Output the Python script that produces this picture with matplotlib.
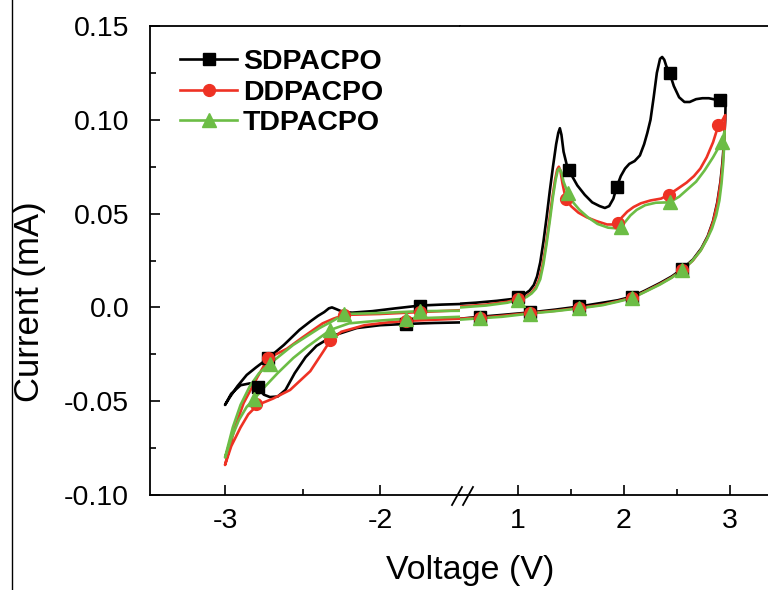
import matplotlib
matplotlib.use("Agg")
import matplotlib.pyplot as plt
from matplotlib.lines import Line2D
from matplotlib.ticker import FixedLocator, FixedFormatter

plt.rcParams["font.family"] = ["Liberation Sans", "DejaVu Sans"]

names = ["SDPACPO", "DDPACPO", "TDPACPO"]
colors = ["#000000", "#ee3224", "#6cbd45"]
markers = ["s", "o", "^"]

# ---- reduction scan (left part, -3.0 ... -1.48 V) ----
sd_red_v = [-1.48, -1.60, -1.74, -1.90, -2.05, -2.18, -2.24, -2.28, -2.31, -2.33, -2.36, -2.40,
            -2.45, -2.52, -2.62, -2.72, -2.80, -2.86, -2.92, -2.97, -3.00,
            -2.96, -2.90, -2.84, -2.79, -2.75, -2.71, -2.66, -2.61, -2.55, -2.48, -2.41,
            -2.30, -2.15, -2.00, -1.83, -1.65, -1.48]
sd_red_i = [0.0018, 0.0015, 0.0010, -0.0005, -0.0020, -0.0028, -0.0024, -0.0010, 0.0000,
            -0.0005, -0.0025, -0.0045, -0.0075, -0.0120, -0.0200, -0.0270, -0.0320, -0.0360,
            -0.0420, -0.0480, -0.0520,
            -0.0460, -0.0415, -0.0405, -0.0425, -0.0465, -0.0478, -0.0475, -0.0440, -0.0350,
            -0.0265, -0.0205, -0.0150, -0.0110, -0.0095, -0.0088, -0.0083, -0.0080]
dd_red_v = [-1.48, -1.74, -2.00, -2.23, -2.30, -2.37, -2.50, -2.60, -2.72, -2.79, -2.88, -2.94,
            -3.00,
            -2.96, -2.90, -2.85, -2.79, -2.69, -2.58, -2.45, -2.37, -2.32, -2.25, -2.10, -1.95,
            -1.83, -1.48]
dd_red_i = [-0.0015, -0.0025, -0.0035, -0.0040, -0.0060, -0.0085, -0.0160, -0.0220, -0.0270,
            -0.0370, -0.0510, -0.0650, -0.0840,
            -0.0740, -0.0640, -0.0570, -0.0520, -0.0486, -0.0440, -0.0340, -0.0240, -0.0176,
            -0.0130, -0.0095, -0.0080, -0.0072, -0.0060]
td_red_v = [-1.48, -1.74, -2.00, -2.23, -2.30, -2.39, -2.56, -2.71, -2.78, -2.84, -2.90, -2.95,
            -3.00,
            -2.96, -2.91, -2.86, -2.81, -2.74, -2.66, -2.56, -2.47, -2.32, -2.20, -2.00, -1.83,
            -1.48]
td_red_i = [-0.0018, -0.0020, -0.0030, -0.0035, -0.0070, -0.0110, -0.0200, -0.0300, -0.0350,
            -0.0420, -0.0520, -0.0640, -0.0800,
            -0.0700, -0.0600, -0.0530, -0.0486, -0.0420, -0.0350, -0.0270, -0.0210, -0.0120,
            -0.0085, -0.0070, -0.0060, -0.0050]

sd_red_mv = [-1.74, -2.72, -2.79, -1.83]
sd_red_mi = [0.0010, -0.0270, -0.0425, -0.0088]
dd_red_mv = [-1.74, -2.23, -2.72, -2.80, -2.32, -1.83]
dd_red_mi = [-0.0025, -0.0040, -0.0270, -0.0515, -0.0176, -0.0072]
td_red_mv = [-1.74, -2.23, -2.71, -2.81, -2.32, -1.83]
td_red_mi = [-0.0020, -0.0035, -0.0300, -0.0486, -0.0120, -0.0060]

# ---- oxidation scan (right part, 0.46 ... 2.95 V) ----
sd_ox_v = [0.46, 0.60, 0.80, 0.95, 1.00, 1.06, 1.11, 1.15, 1.18, 1.21, 1.24, 1.27, 1.30, 1.33,
           1.36, 1.38, 1.395, 1.41, 1.43, 1.46, 1.50, 1.56, 1.63, 1.70, 1.77, 1.82, 1.86, 1.90,
           1.93, 1.97, 2.01, 2.05, 2.10, 2.15, 2.19, 2.22, 2.25, 2.28, 2.31, 2.34, 2.36, 2.38,
           2.40, 2.43, 2.47, 2.52, 2.57, 2.62, 2.68, 2.74, 2.80, 2.86, 2.91, 2.94, 2.96,
           2.955, 2.945, 2.93, 2.91, 2.88, 2.84, 2.79, 2.73, 2.65, 2.55, 2.45, 2.34, 2.20,
           2.08, 1.94, 1.80, 1.58, 1.35, 1.11, 0.85, 0.64, 0.46]
sd_ox_i = [0.0020, 0.0025, 0.0035, 0.0045, 0.0055, 0.0070, 0.0090, 0.0120, 0.0165, 0.0240,
           0.0350, 0.0480, 0.0620, 0.0750, 0.0870, 0.0930, 0.0955, 0.0920, 0.0830, 0.0760,
           0.0710, 0.0650, 0.0600, 0.0560, 0.0540, 0.0530, 0.0540, 0.0580, 0.0640, 0.0700,
           0.0740, 0.0765, 0.0780, 0.0810, 0.0870, 0.0930, 0.1000, 0.1120, 0.1250, 0.1325,
           0.1335, 0.1320, 0.1285, 0.1250, 0.1180, 0.1120, 0.1095, 0.1095, 0.1110, 0.1115,
           0.1115, 0.1108, 0.1105, 0.1110, 0.1130,
           0.1000, 0.0900, 0.0780, 0.0670, 0.0560, 0.0460, 0.0380, 0.0315, 0.0255, 0.0205,
           0.0165, 0.0130, 0.0090, 0.0058, 0.0038, 0.0025, 0.0005, -0.0012, -0.0027, -0.0040,
           -0.0050, -0.0060]
dd_ox_v = [0.46, 0.70, 0.90, 1.00, 1.08, 1.13, 1.17, 1.20, 1.23, 1.26, 1.29, 1.32, 1.35, 1.37,
           1.385, 1.40, 1.42, 1.45, 1.50, 1.57, 1.65, 1.74, 1.84, 1.90, 1.94, 1.98, 2.03,
           2.09, 2.16, 2.25, 2.35, 2.42, 2.50, 2.59, 2.66, 2.72, 2.78, 2.84, 2.89, 2.93, 2.955,
           2.95, 2.945, 2.93, 2.91, 2.88, 2.84, 2.79, 2.73, 2.65, 2.55, 2.45, 2.34, 2.20,
           2.08, 1.94, 1.80, 1.58, 1.35, 1.11, 0.85, 0.64, 0.46]
dd_ox_i = [0.0005, 0.0015, 0.0030, 0.0045, 0.0060, 0.0080, 0.0110, 0.0150, 0.0220, 0.0320,
           0.0440, 0.0570, 0.0680, 0.0735, 0.0750, 0.0730, 0.0660, 0.0580, 0.0540, 0.0505,
           0.0480, 0.0460, 0.0442, 0.0442, 0.0450, 0.0480, 0.0510, 0.0535, 0.0555, 0.0570,
           0.0580, 0.0600, 0.0630, 0.0665, 0.0700, 0.0740, 0.0800, 0.0880, 0.0970, 0.1000,
           0.1025,
           0.0950, 0.0870, 0.0760, 0.0660, 0.0550, 0.0455, 0.0375, 0.0310, 0.0250, 0.0200,
           0.0160, 0.0125, 0.0085, 0.0052, 0.0033, 0.0015, -0.0002, -0.0018, -0.0030, -0.0045,
           -0.0055, -0.0060]
td_ox_v = [0.46, 0.70, 0.90, 1.00, 1.08, 1.13, 1.17, 1.21, 1.24, 1.27, 1.30, 1.33, 1.355,
           1.375, 1.39, 1.41, 1.43, 1.47, 1.52, 1.58, 1.66, 1.75, 1.85, 1.92, 1.97, 2.01, 2.06,
           2.12, 2.20, 2.30, 2.43, 2.52, 2.60, 2.68, 2.76, 2.84, 2.92, 2.95,
           2.945, 2.935, 2.92, 2.90, 2.87, 2.83, 2.78, 2.72, 2.64, 2.55, 2.45, 2.34, 2.20,
           2.08, 1.94, 1.80, 1.58, 1.35, 1.11, 0.85, 0.64, 0.46]
td_ox_i = [0.0000, 0.0010, 0.0025, 0.0040, 0.0055, 0.0075, 0.0100, 0.0150, 0.0230, 0.0340,
           0.0460, 0.0590, 0.0680, 0.0730, 0.0740, 0.0720, 0.0670, 0.0610, 0.0560, 0.0520,
           0.0480, 0.0445, 0.0425, 0.0422, 0.0430, 0.0455, 0.0490, 0.0520, 0.0545, 0.0558,
           0.0560, 0.0590, 0.0630, 0.0670, 0.0730, 0.0800, 0.0880, 0.0940,
           0.0860, 0.0760, 0.0660, 0.0570, 0.0490, 0.0420, 0.0360, 0.0300, 0.0245, 0.0198,
           0.0158, 0.0122, 0.0083, 0.0050, 0.0030, 0.0012, -0.0005, -0.0020, -0.0033, -0.0050,
           -0.0058, -0.0065]

sd_ox_mv = [1.00, 1.48, 1.93, 2.43, 2.91, 2.55, 2.08, 1.58, 1.11, 0.64]
sd_ox_mi = [0.0055, 0.0730, 0.0640, 0.1250, 0.1105, 0.0205, 0.0058, 0.0005, -0.0027, -0.0050]
dd_ox_mv = [1.00, 1.45, 1.94, 2.42, 2.89, 2.55, 2.08, 1.58, 1.11, 0.64]
dd_ox_mi = [0.0045, 0.0580, 0.0450, 0.0600, 0.0970, 0.0200, 0.0052, -0.0002, -0.0030, -0.0055]
td_ox_mv = [1.00, 1.47, 1.97, 2.43, 2.92, 2.55, 2.08, 1.58, 1.11, 0.64]
td_ox_mi = [0.0040, 0.0610, 0.0430, 0.0560, 0.0880, 0.0198, 0.0050, -0.0005, -0.0033, -0.0058]

red_curves = [(sd_red_v, sd_red_i, sd_red_mv, sd_red_mi),
              (dd_red_v, dd_red_i, dd_red_mv, dd_red_mi),
              (td_red_v, td_red_i, td_red_mv, td_red_mi)]
ox_curves = [(sd_ox_v, sd_ox_i, sd_ox_mv, sd_ox_mi),
             (dd_ox_v, dd_ox_i, dd_ox_mv, dd_ox_mi),
             (td_ox_v, td_ox_i, td_ox_mv, td_ox_mi)]

fig = plt.figure(figsize=(7.68, 5.90), dpi=100)
bot, top = 1 - 495 / 590, 1 - 26 / 590
xa, xb, xc = 150 / 768, 460 / 768, 1.0
axl = fig.add_axes([xa, bot, xb - xa, top - bot])
axr = fig.add_axes([xb, bot, xc - xb, top - bot], sharey=axl)

msize = {"s": 8, "o": 8.5, "^": 9.5}
for ax, curves in ((axl, red_curves), (axr, ox_curves)):
    for (v, i, mv, mi), c, m in zip(curves, colors, markers):
        ax.plot(v, i, color=c, lw=1.9, solid_joinstyle="round", zorder=2)
        ax.plot(mv, mi, ls="none", marker=m, ms=msize[m], color=c, mec=c, zorder=3)

axl.set_xlim(-3.484, -1.484)
axr.set_xlim(0.453, 1 + (768 - 518) / 106)
axl.set_ylim(-0.10, 0.15)

yt = [-0.10, -0.05, 0.0, 0.05, 0.10, 0.15]
axl.yaxis.set_major_locator(FixedLocator(yt))
axl.yaxis.set_major_formatter(FixedFormatter(["-0.10", "-0.05", "0.0", "0.05", "0.10", "0.15"]))
axl.yaxis.set_minor_locator(FixedLocator([-0.075, -0.025, 0.025, 0.075, 0.125]))
axl.set_xticks([-3, -2])
axl.set_xticklabels(["-3", "-2"])
axl.set_xticks([-2.5], minor=True)
axr.set_xticks([1, 2, 3])
axr.set_xticklabels(["1", "2", "3"])
axr.set_xticks([1.5, 2.5], minor=True)

for ax in (axl, axr):
    ax.tick_params(which="major", direction="in", length=7, width=1.2, labelsize=20.5)
    ax.tick_params(which="minor", direction="in", length=4, width=1.2)
    ax.tick_params(axis="x", pad=9)
    ax.spines["right"].set_visible(False)
    for s in ax.spines.values():
        s.set_linewidth(1.3)
axl.tick_params(axis="y", pad=15)
axr.spines["left"].set_visible(False)
axr.tick_params(axis="y", which="both", left=False, labelleft=False)

# axis break marks
for x0 in (452, 463):
    fig.add_artist(Line2D([x0 / 768, (x0 + 10) / 768], [1 - 505 / 590, 1 - 487 / 590],
                          transform=fig.transFigure, color="black", lw=1.3))

fig.text(470 / 768, 1 - 570 / 590, "Voltage (V)", fontsize=24.5, ha="center", va="center")
fig.text(30 / 768, 1 - 302 / 590, "Current (mA)", fontsize=25, rotation=90,
         ha="center", va="center")
fig.add_artist(Line2D([12 / 768, 12 / 768], [0, 1], transform=fig.transFigure,
                      color="black", lw=1.0))

handles = [Line2D([0], [0], color=c, lw=1.9, marker=m, ms=msize[m], mec=c)
           for c, m in zip(colors, markers)]
fig.legend(handles, names, loc="upper left", bbox_to_anchor=(166 / 768, 1 - 35 / 590),
           frameon=False, borderpad=0, handlelength=2.0, handletextpad=0.2,
           labelspacing=0.15, prop={"weight": "bold", "size": 20.5})

fig.savefig("out.png", dpi=100)
